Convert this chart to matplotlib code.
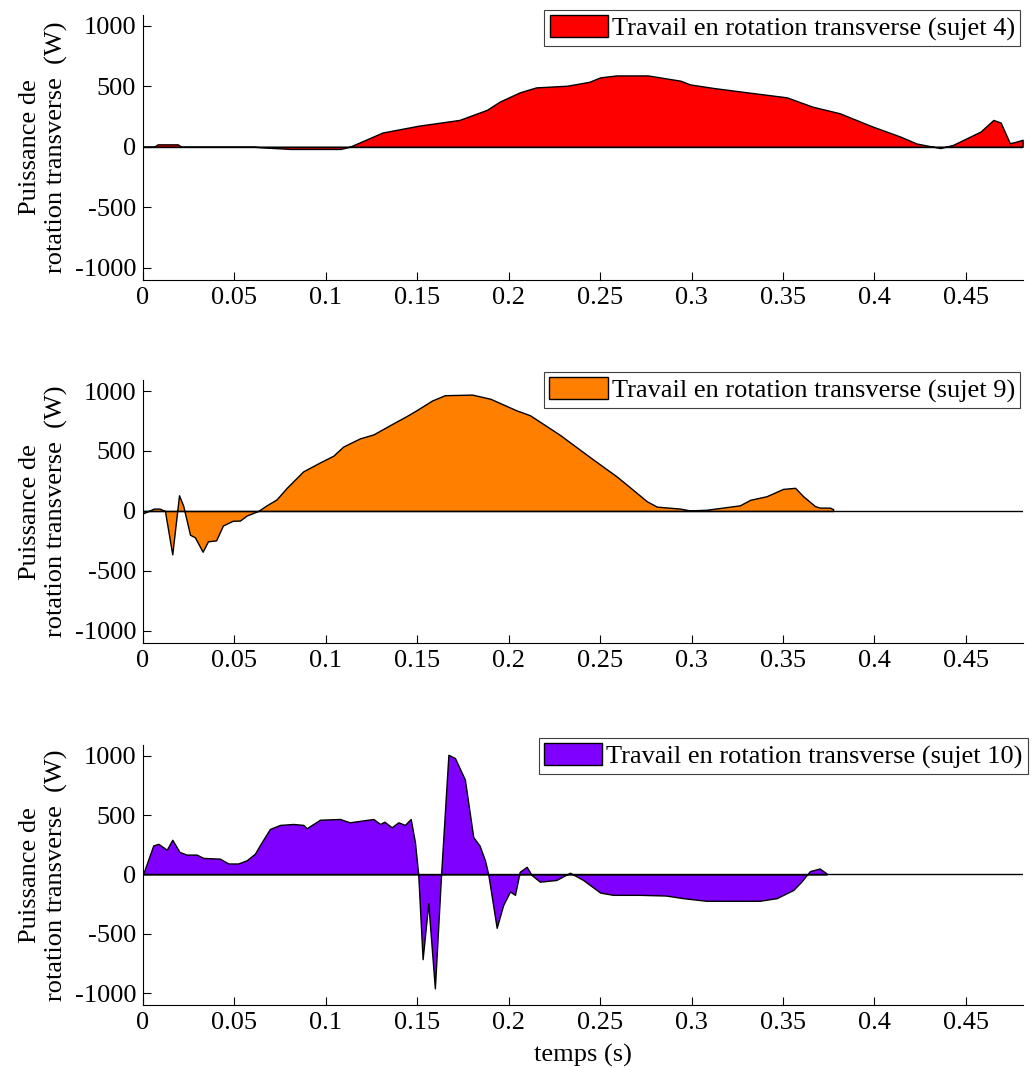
#! /usr/bin/env python3

import numpy as np
import matplotlib
matplotlib.use('Agg')
import matplotlib.pyplot as plt

plt.rcParams['font.family'] = ['Liberation Serif', 'DejaVu Serif']
plt.rcParams['font.size'] = 19
plt.rcParams['axes.unicode_minus'] = False

# sujet 4
t4 = [0, 0.006, 0.008, 0.019, 0.021, 0.061, 0.065, 0.081, 0.108, 0.113,
      0.131, 0.151, 0.173, 0.188, 0.195, 0.206, 0.215, 0.232, 0.244, 0.250,
      0.259, 0.276, 0.294, 0.299, 0.312, 0.332, 0.352, 0.366, 0.381, 0.399,
      0.414, 0.423, 0.436, 0.443, 0.458, 0.465, 0.469, 0.474, 0.477, 0.481]
p4 = [0, 0, 20, 20, 0, 0, -5, -18, -18, 0,
      118, 175, 222, 305, 373, 450, 491, 505, 537, 574,
      590, 590, 546, 516, 486, 447, 409, 332, 277, 167,
      85, 27, -11, 16, 126, 222, 200, 30, 40, 58]

# sujet 9
t9 = [0, 0.006, 0.009, 0.012, 0.016, 0.0197, 0.022, 0.0257, 0.0284, 0.0326,
      0.0355, 0.040, 0.0437, 0.049, 0.053, 0.0567, 0.063, 0.0676, 0.073, 0.0786,
      0.0876, 0.0968, 0.104, 0.1095, 0.1186, 0.126, 0.135, 0.144, 0.1496, 0.158,
      0.165, 0.18, 0.19, 0.204, 0.2116, 0.228, 0.246, 0.259, 0.266, 0.2754,
      0.281, 0.2936, 0.299, 0.308, 0.317, 0.3264, 0.332, 0.341, 0.350, 0.3566,
      0.361, 0.3674, 0.370, 0.3756, 0.3774]
p9 = [-20, 20, 20, 0, -362, 131, 43, -198, -220, -340,
      -253, -245, -121, -82, -80, -38, 0, 47, 96, 193,
      330, 405, 460, 537, 605, 638, 715, 790, 840, 920,
      965, 970, 935, 840, 798, 634, 431, 288, 201, 82,
      36, 20, 5, 10, 28, 47, 93, 123, 184, 193,
      123, 41, 28, 28, 15]

# sujet 10
t10 = [0, 0.0056, 0.0084, 0.013, 0.016, 0.020, 0.0239, 0.0293, 0.033, 0.042,
       0.0467, 0.052, 0.0567, 0.0612, 0.0649, 0.0694, 0.0749, 0.0822, 0.0877, 0.0895,
       0.0968, 0.1077, 0.113, 0.126, 0.1296, 0.132, 0.136, 0.1396, 0.1432, 0.1464,
       0.1487, 0.1505, 0.1529, 0.156, 0.1596, 0.163, 0.167, 0.1706, 0.176, 0.1806,
       0.184, 0.187, 0.1888, 0.1934, 0.197, 0.2007, 0.2034, 0.206, 0.2098, 0.2125,
       0.217, 0.226, 0.2335, 0.2407, 0.25, 0.257, 0.2717, 0.286, 0.2954, 0.308,
       0.3228, 0.3373, 0.3465, 0.3556, 0.360, 0.3632, 0.3647, 0.370, 0.3738]
p10 = [0, 244, 258, 208, 292, 189, 167, 167, 139, 133,
       92, 92, 119, 175, 272, 383, 417, 425, 417, 389,
       461, 467, 439, 467, 425, 444, 397, 439, 417, 467,
       272, 0, -714, -242, -960, 0, 1008, 980, 800, 314,
       244, 119, 0, -450, -256, -144, -172, 22, 64, -5,
       -61, -47, 14, -47, -153, -172, -172, -178, -200, -222,
       -222, -222, -200, -131, -61, 0, 28, 50, 8]

series = [(t4, p4, '#ff0000', 'Travail en rotation transverse (sujet 4)'),
          (t9, p9, '#ff8000', 'Travail en rotation transverse (sujet 9)'),
          (t10, p10, '#8000ff', 'Travail en rotation transverse (sujet 10)')]

ylabel = 'Puissance de\nrotation transverse  (W)'
xticks = [0, 0.05, 0.1, 0.15, 0.2, 0.25, 0.3, 0.35, 0.4, 0.45]
yticks = [-1000, -500, 0, 500, 1000]

fig = plt.figure(figsize=(10.34, 10.68), dpi=100)
boxes = [[0.1383, 0.738, 0.8507, 0.248],
         [0.1383, 0.398, 0.8507, 0.246],
         [0.1383, 0.059, 0.8507, 0.2434]]
legpos = [(0.9865, 0.9906), (0.9865, 0.6517), (0.994, 0.309)]

for i, (t, p, col, lab) in enumerate(series):
    ax = fig.add_axes(boxes[i])
    t = np.array(t)
    p = np.array(p)
    ax.fill_between(t, p, 0, facecolor=col, edgecolor='k', linewidth=1.0,
                    label=lab)
    ax.axhline(0, color='k', linewidth=1.0)
    ax.set_xlim(0, 0.481)
    ax.set_ylim(-1100, 1090)
    ax.set_xticks(xticks)
    ax.set_xticklabels(['%g' % x for x in xticks])
    ax.set_yticks(yticks)
    ax.spines['top'].set_visible(False)
    ax.spines['right'].set_visible(False)
    ax.tick_params(direction='in', length=6, width=0.8, pad=5)
    ax.set_ylabel(ylabel, multialignment='center', labelpad=5)
    leg = ax.legend(loc='upper right', bbox_to_anchor=legpos[i],
                    bbox_transform=fig.transFigure, borderaxespad=0,
                    fancybox=False, framealpha=1, edgecolor='#404040',
                    handlelength=2.2, handleheight=0.9, handletextpad=0.15,
                    borderpad=0.2)
    leg.get_frame().set_linewidth(0.8)
    if i == 2:
        ax.set_xlabel('temps (s)', labelpad=7)

fig.savefig('out.png', dpi=100)
